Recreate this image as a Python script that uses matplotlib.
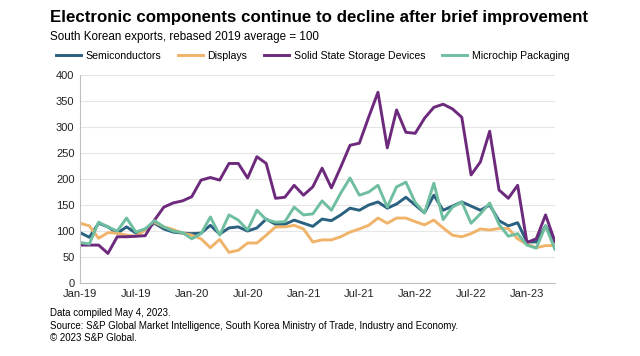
import matplotlib
matplotlib.use("Agg")
import matplotlib.pyplot as plt
import numpy as np

plt.rcParams['font.family'] = ['Liberation Sans', 'DejaVu Sans']

tick_labels = ['Jan-19', 'Jul-19', 'Jan-20', 'Jul-20', 'Jan-21',
               'Jul-21', 'Jan-22', 'Jul-22', 'Jan-23']

# monthly index, Jan-19 .. Apr-23
semiconductors = [97, 88, 115, 108, 96, 108, 96, 104, 115, 104, 98, 96,
                  95, 96, 111, 94, 106, 108, 100, 106, 123, 113, 113, 121,
                  115, 109, 123, 120, 131, 144, 140, 150, 156, 144, 152, 165,
                  150, 135, 169, 140, 148, 156, 148, 140, 150, 120, 110, 116,
                  79, 79, 110, 80]
displays = [115, 110, 86, 97, 96, 92, 90, 102, 117, 108, 103, 96,
            92, 85, 68, 84, 59, 63, 77, 77, 92, 108, 108, 111,
            104, 79, 83, 83, 89, 98, 104, 111, 125, 115, 125, 125,
            118, 112, 121, 106, 92, 89, 95, 104, 102, 105, 105, 85,
            75, 68, 72, 72]
storage = [73, 73, 73, 57, 89, 89, 90, 91, 121, 146, 154, 158,
           166, 198, 203, 198, 230, 230, 202, 243, 230, 163, 165, 188,
           169, 185, 221, 183, 223, 265, 269, 319, 367, 260, 333, 290,
           288, 317, 338, 344, 335, 319, 208, 233, 292, 179, 163, 188,
           78, 85, 131, 80]
packaging = [78, 75, 117, 108, 100, 125, 98, 104, 120, 108, 100, 97,
             85, 95, 127, 92, 131, 121, 102, 140, 122, 117, 118, 146,
             131, 133, 158, 140, 173, 202, 169, 175, 188, 146, 185, 194,
             155, 135, 192, 122, 146, 156, 115, 133, 154, 113, 90, 95,
             73, 67, 110, 65]

x = np.arange(len(storage))

fig = plt.figure(figsize=(6.4, 3.56), dpi=100)
ax = fig.add_axes([0.125, 0.205, 0.742, 0.584])

ax.plot(x, semiconductors, color='#2a6080', lw=2.1, label='Semiconductors')
ax.plot(x, displays, color='#f0b36a', lw=2.1, label='Displays')
ax.plot(x, storage, color='#6d2a7d', lw=2.1, label='Solid State Storage Devices')
ax.plot(x, packaging, color='#6fbea0', lw=2.1, label='Microchip Packaging')

ax.set_xlim(0, len(x) - 1)
ax.set_ylim(0, 400)
ax.set_yticks(range(0, 401, 50))
ax.set_xticks(range(0, len(x), 6))
ax.set_xticklabels(tick_labels)
ax.tick_params(length=0, labelsize=8, colors='#222222', pad=4)
ax.grid(axis='y', color='#e6e6e6', lw=0.8)
ax.set_axisbelow(True)
for s in ['top', 'right']:
    ax.spines[s].set_visible(False)
for s in ['left', 'bottom']:
    ax.spines[s].set_color('#bfbfbf')

fig.legend(loc='center', bbox_to_anchor=(0.488, 0.843), ncol=4, frameon=False,
           fontsize=7.6, handlelength=2.4, columnspacing=1.6, handletextpad=0.4)

fig.text(0.078, 0.95, 'Electronic components continue to decline after brief improvement',
         fontsize=12.2, fontweight='bold', va='center')
fig.text(0.078, 0.897, 'South Korean exports, rebased 2019 average = 100',
         fontsize=8.4, va='center')

fig.text(0.078, 0.12, 'Data compiled May 4, 2023.', fontsize=7, va='center')
fig.text(0.078, 0.084, 'Source: S&P Global Market Intelligence, South Korea Ministry of Trade, Industry and Economy.',
         fontsize=7, va='center')
fig.text(0.078, 0.05, '\u00a9 2023 S&P Global.', fontsize=7, va='center')

fig.savefig('out.png', dpi=100)
